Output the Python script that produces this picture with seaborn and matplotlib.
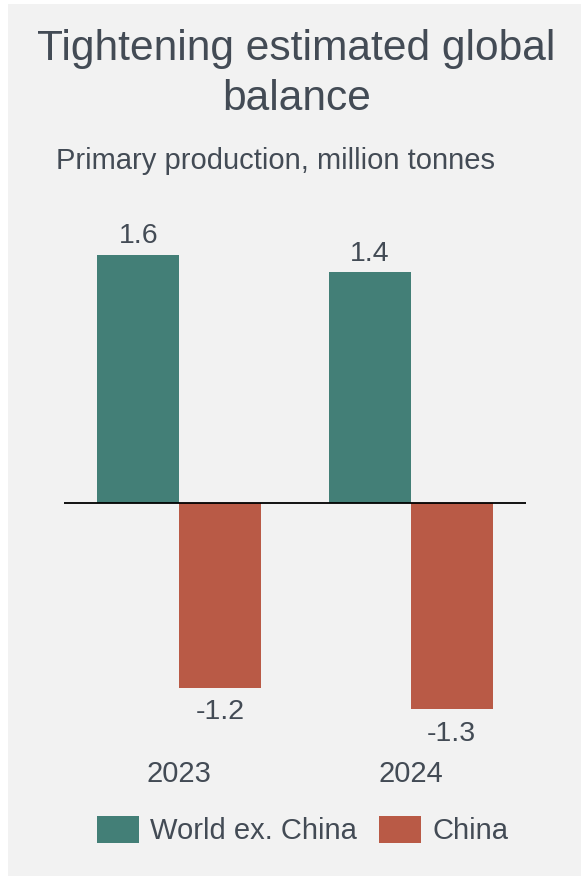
import matplotlib
matplotlib.use("Agg")
import matplotlib.pyplot as plt
from matplotlib.patches import Rectangle, Patch
import seaborn as sns
import pandas as pd

# ---- data ----
years = ["2023", "2024"]
series = ["World ex. China", "China"]
world_ex_china = [1.6, 1.49]
china = [-1.19, -1.33]
world_labels = ["1.6", "1.4"]
china_labels = ["-1.2", "-1.3"]

title_lines = ["Tightening estimated global", "balance"]
subtitle = "Primary production, million tonnes"

GREEN = "#437f77"
RED = "#b95a46"
TEXT = "#434b55"
PANEL = "#f2f2f2"

df = pd.DataFrame({
    "year": years * 2,
    "series": [series[0]] * len(years) + [series[1]] * len(years),
    "value": world_ex_china + china,
})

sns.set_theme(style="white")
plt.rcParams["font.family"] = ["Liberation Sans", "DejaVu Sans"]

W, H = 581, 876
fig = plt.figure(figsize=(W / 100, H / 100), dpi=100, facecolor="white")
fig.patches.append(Rectangle((8 / W, 0), (W - 8) / W, (H - 4) / H,
                             transform=fig.transFigure, facecolor=PANEL,
                             edgecolor="none", zorder=-10))

ax_left, ax_right, ax_top, ax_bot = 63.6, 526.4, 224, 740
ax = fig.add_axes([ax_left / W, 1 - ax_bot / H, (ax_right - ax_left) / W,
                   (ax_bot - ax_top) / H])
ax.set_facecolor("none")

sns.barplot(data=df, x="year", y="value", hue="series", order=years,
            hue_order=series, palette=[GREEN, RED], width=0.71,
            linewidth=0, saturation=1, legend=False, ax=ax, errorbar=None)

ax.set_xlim(-0.5, 1.5)
ax.set_ylim(-1.527, 1.80)
ax.axhline(0, color="black", lw=1.3, zorder=5)

ax.bar_label(ax.containers[0], labels=world_labels, padding=4.0,
             fontsize=20.5, color=TEXT)
ax.bar_label(ax.containers[1], labels=china_labels, padding=8.3,
             fontsize=20.5, color=TEXT)

for s in ax.spines.values():
    s.set_visible(False)
ax.set_yticks([])
ax.set_xlabel("")
ax.set_ylabel("")
ax.tick_params(axis="x", length=0, pad=14.4, labelsize=21, labelcolor=TEXT)

fig.text(296.5 / W, 1 - 60 / H, title_lines[0], ha="center", va="baseline",
         fontsize=30.6, color=TEXT)
fig.text(296.5 / W, 1 - 110 / H, title_lines[1], ha="center", va="baseline",
         fontsize=30.6, color=TEXT)
fig.text(56.5 / W, 1 - 169.3 / H, subtitle, ha="left", va="baseline",
         fontsize=21, color=TEXT)

handles = [Patch(facecolor=GREEN, edgecolor="none"),
           Patch(facecolor=RED, edgecolor="none")]
fs = 21
fpx = fs * 100 / 72
leg = fig.legend(handles, series, loc="center",
                 bbox_to_anchor=(302.5 / W, 1 - 830.5 / H), ncol=2, frameon=False,
                 fontsize=fs, handlelength=42 / fpx, handleheight=31.7 / fpx,
                 handletextpad=11 / fpx, columnspacing=23 / fpx,
                 borderpad=0, borderaxespad=0)
for t in leg.get_texts():
    t.set_color(TEXT)

fig.savefig("out.png", dpi=100, facecolor=fig.get_facecolor())
